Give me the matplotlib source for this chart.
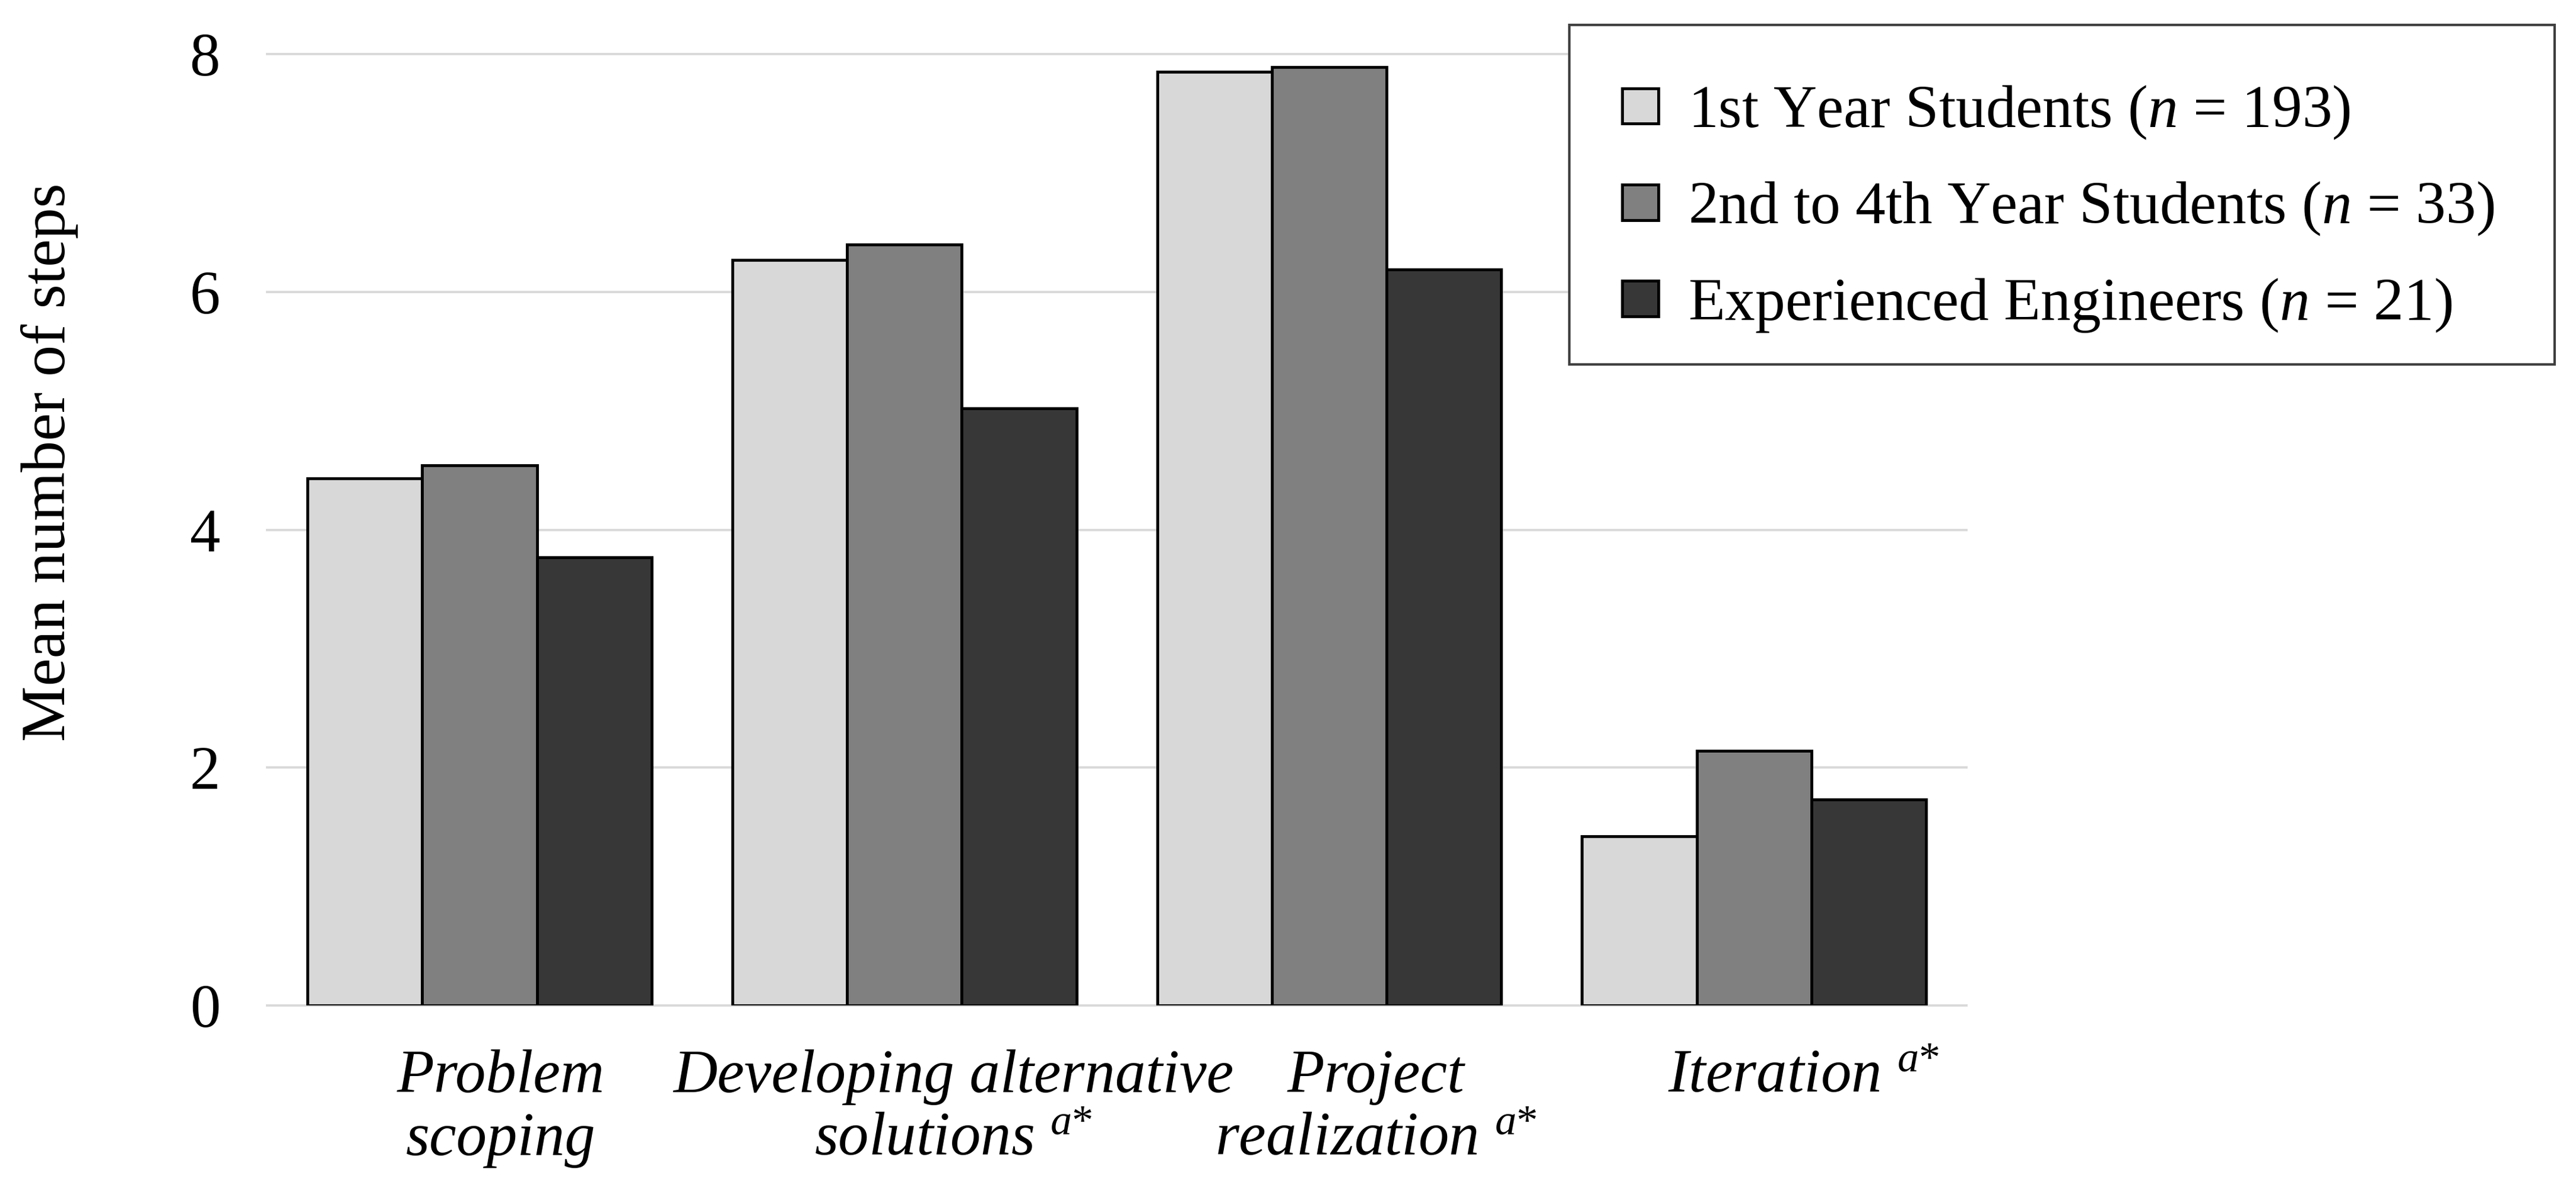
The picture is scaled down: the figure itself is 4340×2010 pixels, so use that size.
import numpy as np
import matplotlib.pyplot as plt
from matplotlib.patches import Rectangle

plt.rcParams['font.family'] = ['Liberation Serif', 'DejaVu Serif']
plt.rcParams['mathtext.fontset'] = 'custom'
plt.rcParams['mathtext.rm'] = 'Liberation Serif'
plt.rcParams['mathtext.it'] = 'Liberation Serif:italic'

# Daten
categories = ['Problem\nscoping',
              'Developing alternative\nsolutions $^{a{*}}$',
              'Project\nrealization $^{a{*}}$',
              'Iteration $^{a{*}}$']
groups = ['1st Year Students ($n$ = 193)',
          '2nd to 4th Year Students ($n$ = 33)',
          'Experienced Engineers ($n$ = 21)']
first_year = [4.43, 6.27, 7.85, 1.42]
second_fourth = [4.54, 6.40, 7.89, 2.14]
experienced = [3.77, 5.02, 6.19, 1.73]
yticks = [0, 2, 4, 6, 8]

colors = ['#d8d8d8', '#808080', '#383737']
label_shift = [0.05, 0.115, 0.11, 0.117]   # Verschiebung der Kategorienamen
line_y = [-0.091, -0.157]                  # Grundlinien der Beschriftungszeilen

fig = plt.figure(figsize=(43.4, 20.1), dpi=100)
ax = fig.add_axes([0.1037, 0.1572, 0.6597, 0.7975])

x = np.arange(len(categories))
w = 0.27
for i, (vals, name) in enumerate(zip([first_year, second_fourth, experienced], groups)):
    ax.bar(x + (i - 1) * w, vals, width=w, color=colors[i], edgecolor='black',
           linewidth=3.5, label=name, zorder=3)

ax.set_xlim(-0.5, 3.5)
ax.set_ylim(0, 8)
ax.set_yticks(yticks)
ax.set_xticks([])
ax.yaxis.grid(True, color='#d9d9d9', linewidth=2.8, clip_on=False)
ax.set_axisbelow(True)
for s in ax.spines.values():
    s.set_visible(False)
ax.tick_params(axis='y', length=0, pad=57, labelsize=74)

ax.set_ylabel('Mean number of steps', fontsize=76)
ax.yaxis.set_label_coords(-0.111, 0.571)

# Kategorienamen unter den Gruppen, Zeile fuer Zeile
for i, cat in enumerate(categories):
    for j, line in enumerate(cat.split('\n')):
        ax.text(x[i] + label_shift[i], line_y[j], line, transform=ax.get_xaxis_transform(),
                ha='center', va='baseline', fontsize=74, style='italic')

# Legendenrahmen extra, damit Abstaende wie im Original passen
frame = Rectangle((0.6092, 0.6945), 0.3825, 0.2846, transform=fig.transFigure,
                  facecolor='white', edgecolor='#404040', linewidth=3.0, zorder=4)
fig.patches.append(frame)

leg = fig.legend(loc='upper left', bbox_to_anchor=(0.6297, 0.9295),
                 borderaxespad=0, borderpad=0, fontsize=73, frameon=False,
                 labelspacing=0.65, handlelength=0.6, handleheight=0.53,
                 handletextpad=0.5)
leg.set_zorder(5)

fig.savefig('out.png', dpi=100)
